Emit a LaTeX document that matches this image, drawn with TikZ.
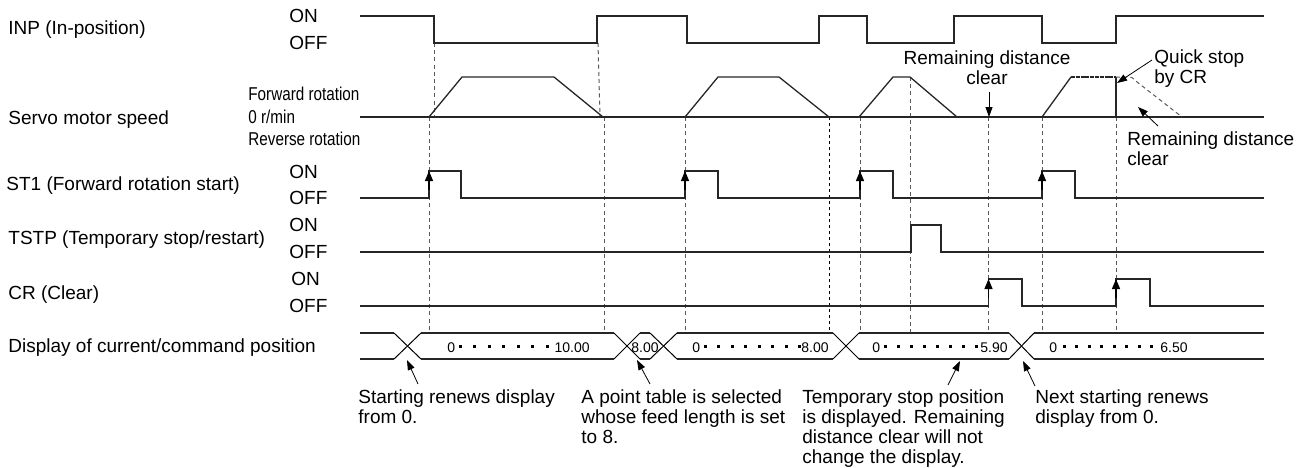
\documentclass[tikz,border=0pt]{standalone}
\usepackage{fontspec}
\setmainfont{Liberation Sans}
\newfontfamily\condfont[FakeStretch=0.82]{Liberation Sans}
\usetikzlibrary{arrows.meta}
\begin{document}
\begin{tikzpicture}[x=0.5pt,y=-0.5pt,
  wave/.style={line width=0.65pt, black!85, line join=miter},
  guide/.style={black!65, line width=0.5pt, dash pattern=on 2pt off 1.6pt},
  guideb/.style={black, line width=0.5pt, dash pattern=on 1.5pt off 1.5pt},
  lbl/.style={inner sep=0pt, anchor=west, font=\fontsize{9.5}{10}\selectfont, text height=1.5ex, text depth=0.25ex},
  lbls/.style={lbl, font=\condfont\fontsize{9.3}{10}\selectfont},
  note/.style={inner sep=0pt, anchor=north west, align=left, font=\fontsize{9.5}{10}\selectfont},
  num/.style={inner sep=0pt, font=\fontsize{7}{8}\selectfont, text height=1.5ex, text depth=0.25ex},
  edgearrow/.style={-{Triangle[length=5pt,width=4pt]}, line width=0.65pt},
  callout/.style={-{Triangle[length=5pt,width=3.5pt]}, line width=0.4pt},
]
\useasboundingbox (0,0) rectangle (1305,467);

% ---------- left labels ----------
\node[lbl] (linp) at (8,28) {INP (In-position)};
\node[lbl] (lspd) at (8,118) {Servo motor speed};
\node[lbl] (lst1) at (6,184) {ST1 (Forward rotation start)};
\node[lbl] (ltstp) at (8,238) {TSTP (Temporary stop/restart)};
\node[lbl] (lcr) at (8,293) {CR (Clear)};
\node[lbl] (ldisp) at (8,346) {Display of current/command position};

\node[lbl] (on1) at (289,16) {ON};
\node[lbl] (off1) at (289,43) {OFF};
\node[lbls] (fwd) at (248,94) {Forward rotation};
\node[lbls] (zero) at (248,117) {0 r/min};
\node[lbls] (rev) at (248,139) {Reverse rotation};
\node[lbl] (on2) at (289,172) {ON};
\node[lbl] (off2) at (289,198) {OFF};
\node[lbl] (on3) at (289,225) {ON};
\node[lbl] (off3) at (289,252) {OFF};
\node[lbl] (on4) at (291,279) {ON};
\node[lbl] (off4) at (289,306) {OFF};

% ---------- guide lines ----------
\draw[guide] (434,43) -- (434,117);
\draw[guide] (429,117) -- (429,333);
\draw[guide] (598,43) -- (600,117);
\draw[guide] (604,117) -- (604,333);
\draw[guide] (685,117) -- (685,333);
\draw[guideb] (829.5,117) -- (829.5,333);
\draw[guide] (860,117) -- (860,333);
\draw[guide] (910.5,77) -- (910.5,333);
\draw[guide] (988.5,117) -- (988.5,333);
\draw[guide] (1042,117) -- (1042,333);
\draw[guide] (1116,117) -- (1116,333);

% ---------- INP ----------
\draw[wave] (360,16) -- (434,16) -- (434,43) -- (597,43) -- (597,16) -- (687,16) -- (687,43)
  -- (819,43) -- (819,16) -- (867,16) -- (867,43) -- (954,43) -- (954,16) -- (1042,16)
  -- (1042,43) -- (1116,43) -- (1116,16) -- (1264,16);

% ---------- speed ----------
\draw[wave] (360,117) -- (1264,117);
\draw[wave] (429,117) -- (462,77) -- (554,77) -- (603,117);
\draw[wave] (685,117) -- (718,77) -- (779,77) -- (829,117);
\draw[wave] (859,117) -- (893,77) -- (910,77) -- (957,117);
\draw[wave] (1042,117) -- (1071,77);
\draw[wave, dash pattern=on 2pt off 0.4pt] (1071,77) -- (1116,77);
\draw[wave] (1116,77) -- (1116,117);
\draw[guide] (1116,77) -- (1126,77) .. controls (1132,77) .. (1137,82) -- (1182,117);

% ---------- ST1 ----------
\draw[wave] (360,198) -- (429,198) -- (429,171) -- (461,171) -- (461,198) -- (685,198)
  -- (685,171) -- (718,171) -- (718,198) -- (860,198) -- (860,171) -- (893,171) -- (893,198)
  -- (1042,198) -- (1042,171) -- (1075,171) -- (1075,198) -- (1264,198);
\foreach \x in {429,685,860,1042} \draw[edgearrow] (\x,190) -- (\x,171);

% ---------- TSTP ----------
\draw[wave] (360,252) -- (911,252) -- (911,225) -- (941,225) -- (941,252) -- (1264,252);

% ---------- CR ----------
\draw[wave] (360,306) -- (988.5,306) -- (988.5,279) -- (1022,279) -- (1022,306) -- (1116,306)
  -- (1116,279) -- (1150,279) -- (1150,306) -- (1264,306);
\foreach \x in {988.5,1116} \draw[edgearrow] (\x,298) -- (\x,279);

% ---------- display band ----------
\foreach \a/\b in {360/394,421/614,640/650,677/833,859/1009,1034/1264}{
  \draw[wave] (\a,333) -- (\b,333);
  \draw[wave] (\a,359) -- (\b,359);
}
\foreach \a/\b in {394/421,614/640,650/677,833/859,1009/1034}{
  \draw[line width=0.5pt] (\a,333) -- (\b,359);
  \draw[line width=0.5pt] (\a,359) -- (\b,333);
}
\node[num, anchor=west] (d0a) at (447,346) {0};
\node[num, anchor=east] (d10) at (590,346) {10.00};
\node[num, anchor=west] (d8s) at (631,346) {8.00};
\node[num, anchor=west] (d0b) at (692,346) {0};
\node[num, anchor=east] (d8) at (829,346) {8.00};
\node[num, anchor=west] (d0c) at (872,346) {0};
\node[num, anchor=east] (d59) at (1008,346) {5.90};
\node[num, anchor=west] (d0d) at (1049,346) {0};
\node[num, anchor=east] (d65) at (1188,346) {6.50};
\foreach \x in {460,474.5,489,503.5,518,532.5,547,
                705,718.5,732,745.5,759,772.5,786,799,
                885,898,911,924,937,950,963,976,
                1064,1076.5,1089,1101.5,1114,1126.5,1139,1151.5}
  \fill (\x-1.5,344.5) rectangle ++(3,3);

% ---------- notes below ----------
\node[note] (n1) at (358,389) {Starting renews display\\from 0.};
\node[note] (n2) at (581,389) {A point table is selected\\whose feed length is set\\to 8.};
\node[note] (n3) at (802,389) {Temporary stop position\\is displayed. Remaining\\distance clear will not\\change the display.};
\node[note] (n4) at (1035,389) {Next starting renews\\display from 0.};
\coordinate (a1s) at (418,384); \coordinate (a1e) at (407,360);
\coordinate (a2s) at (650,384); \coordinate (a2e) at (637,360);
\coordinate (a3s) at (948,385); \coordinate (a3e) at (960,361);
\coordinate (a4s) at (1035,386); \coordinate (a4e) at (1023,361);
\draw[callout] (a1s) -- (a1e);
\draw[callout] (a2s) -- (a2e);
\draw[callout] (a3s) -- (a3e);
\draw[callout] (a4s) -- (a4e);

% ---------- notes above ----------
\node[note, anchor=north, align=center] (n5) at (987,50) {Remaining distance\\clear};
\coordinate (a5s) at (989,92); \coordinate (a5e) at (989,117);
\draw[callout] (a5s) -- (a5e);
\node[note] (n6) at (1154,49) {Quick stop\\by CR};
\coordinate (a6s) at (1152,60); \coordinate (a6e) at (1117,83);
\draw[callout] (a6s) -- (a6e);
\node[note] (n7) at (1127,131) {Remaining distance\\clear};
\coordinate (a7s) at (1158,126); \coordinate (a7e) at (1138,107);
\draw[callout] (a7s) -- (a7e);
\end{tikzpicture}
\end{document}
